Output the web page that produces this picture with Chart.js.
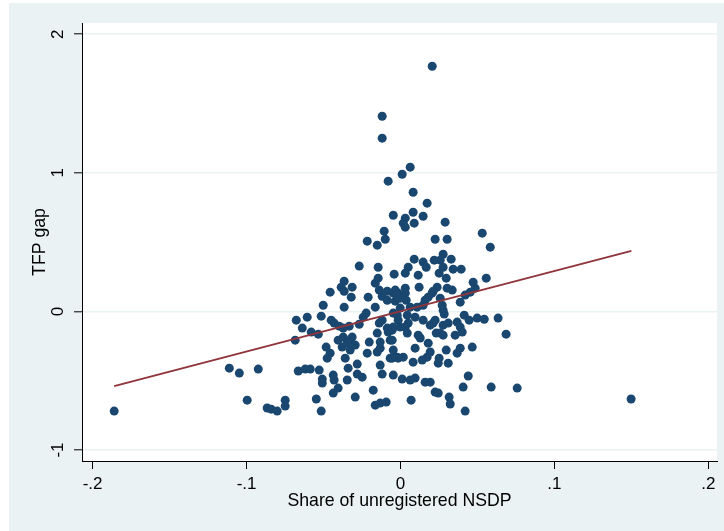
<!DOCTYPE html>
<html>
<head>
<meta charset="utf-8">
<script src="https://cdn.jsdelivr.net/npm/chart.js@4/dist/chart.umd.min.js"></script>
<style>
html,body{margin:0;padding:0;background:#fff;}
canvas{display:block;}
</style>
</head>
<body>
<canvas id="c" width="724" height="531"></canvas>
<script>
// Share of unregistered NSDP (x) and TFP gap (y)
const shareNSDP = [
-0.186,-0.0996,-0.0866,-0.0840,-0.0801,-0.0749,-0.0749,-0.1112,-0.1047,-0.0924,
-0.0080,-0.0047,-0.0106,-0.0099,-0.0216,-0.0151,-0.0268,-0.0145,-0.0041,-0.0145,
-0.0164,-0.0366,-0.0385,-0.0314,-0.0366,-0.0457,-0.0320,-0.0210,-0.0138,-0.0086,
-0.0047,-0.0015,-0.0119,-0.0086,-0.0034,-0.0502,-0.0366,-0.0164,-0.0047,-0.0677,
-0.0606,-0.0515,-0.0223,-0.0242,-0.0450,-0.0431,-0.0398,-0.0333,-0.0268,-0.0138,
-0.0119,-0.0638,-0.0580,-0.0534,-0.0372,-0.0086,-0.0080,-0.0151,-0.0372,-0.0314,
-0.0684,-0.0405,-0.0346,-0.0379,-0.0327,-0.0203,-0.0132,-0.0132,-0.0067,-0.0047,
-0.0067,-0.0021,-0.0483,-0.0457,-0.0476,-0.0359,-0.0216,-0.0151,-0.0340,-0.0281,
-0.0281,-0.0249,-0.0132,-0.0119,-0.0047,-0.0664,-0.0619,-0.0586,-0.0528,-0.0508,
-0.0508,-0.0437,-0.0431,-0.0437,-0.0405,-0.0346,-0.0294,-0.0177,-0.0547,-0.0515,
-0.0164,-0.0132,-0.0093,
0.0082,0.0173,0.0031,0.0082,0.0147,0.0018,0.0031,0.0089,0.0290,0.0531,
0.0583,0.0225,0.0303,0.0277,0.0089,0.0147,0.0167,0.0219,0.0258,0.0329,
0.0277,0.0251,0.0342,0.0394,0.0050,0.0031,0.0115,0.0297,0.0472,0.0557,
0.0238,0.0212,0.0121,0.0303,0.0336,0.0453,0.0485,0.0420,0.0388,0.0031,
0.0031,-0.0034,-0.0021,0.0037,0.0160,0.0180,0.0205,0.0258,0.0147,0.0108,
0.0063,-0.0002,0.0271,0.0277,0.0284,-0.0021,0.0044,0.0095,0.0147,0.0193,
0.0225,0.0277,0.0310,0.0368,0.0414,0.0446,0.0498,0.0544,0.0634,0.0686,
0.0388,0.0401,0.0355,0.0232,0.0258,0.0277,0.0115,0.0044,-0.0002,-0.0047,
0.0466,0.0388,0.0368,0.0297,0.0310,0.0251,0.0245,0.0180,0.0193,0.0173,
0.0141,0.0095,0.0082,0.0018,-0.0015,-0.0054,0.0128,0.0212,0.0031,-0.0054,
-0.0054,0.0440,0.0407,0.0589,0.0011,0.0063,0.0095,0.0160,0.0193,0.0225,
0.0245,0.0316,0.0323,0.0069,0.0420,0.0758,0.1498,
0.0206,-0.0119,-0.0119,0.0063,0.0011,
-0.0327,-0.0294,-0.0002,-0.0015,0.0050
];
const tfpGap = [
-0.719,-0.640,-0.697,-0.705,-0.719,-0.640,-0.683,-0.409,-0.445,-0.416,
0.940,0.694,0.579,0.521,0.507,0.478,0.327,0.319,0.269,0.240,
0.204,0.218,0.175,0.175,0.146,0.139,0.103,0.103,0.154,0.146,
0.132,0.132,0.110,0.081,0.074,0.045,0.031,0.031,-0.012,-0.063,
-0.041,-0.034,-0.012,-0.041,-0.063,-0.084,-0.106,-0.106,-0.092,-0.084,
-0.063,-0.120,-0.149,-0.164,-0.120,-0.120,-0.149,-0.156,-0.185,-0.185,
-0.207,-0.207,-0.229,-0.257,-0.279,-0.221,-0.221,-0.265,-0.207,-0.279,
-0.337,-0.330,-0.257,-0.301,-0.337,-0.337,-0.301,-0.293,-0.409,-0.380,
-0.452,-0.474,-0.387,-0.452,-0.459,-0.430,-0.416,-0.416,-0.423,-0.488,
-0.517,-0.459,-0.495,-0.589,-0.553,-0.495,-0.618,-0.568,-0.632,-0.719,
-0.676,-0.661,-0.654,
0.860,0.781,0.673,0.716,0.687,0.637,0.608,0.637,0.644,0.565,
0.464,0.521,0.521,0.413,0.377,0.356,0.319,0.370,0.370,0.377,
0.319,0.276,0.305,0.305,0.319,0.276,0.262,0.240,0.211,0.240,
0.175,0.146,0.175,0.168,0.154,0.139,0.168,0.118,0.067,0.168,
0.132,0.154,0.118,0.081,0.081,0.103,0.132,0.096,0.045,0.031,
0.031,0.024,0.045,0.009,-0.019,-0.027,-0.027,-0.041,-0.063,-0.099,
-0.063,-0.099,-0.084,-0.077,-0.027,-0.063,-0.048,-0.056,-0.048,-0.164,
-0.113,-0.149,-0.171,-0.156,-0.156,-0.171,-0.171,-0.156,-0.113,-0.113,
-0.257,-0.265,-0.301,-0.279,-0.373,-0.337,-0.373,-0.229,-0.293,-0.330,
-0.351,-0.265,-0.366,-0.330,-0.337,-0.337,-0.192,-0.084,-0.113,-0.207,
-0.135,-0.466,-0.546,-0.546,-0.488,-0.495,-0.481,-0.510,-0.510,-0.582,
-0.589,-0.618,-0.668,-0.640,-0.719,-0.553,-0.632,
1.769,1.408,1.250,1.041,0.990,
-0.207,-0.243,0.096,-0.063,-0.084
];
// Fitted line end points
const fitX = [-0.186, 0.150];
const fitY = [-0.539, 0.437];
// Axis ticks
const xTickValues = [-0.2, -0.1, 0, 0.1, 0.2];
const xTickLabels = ['-.2', '-.1', '0', '.1', '.2'];
const yTickValues = [-1, 0, 1, 2];
const yTickLabels = ['-1', '0', '1', '2'];

const scatterPts = shareNSDP.map((v, i) => ({x: v, y: tfpGap[i]}));
const fitPts = fitX.map((v, i) => ({x: v, y: fitY[i]}));

const FONT = "'Liberation Sans', Arial, Helvetica, sans-serif";
const BG = '#EAF2F3';

const bgPlugin = {
  id: 'bg',
  beforeDraw(chart) {
    const ctx = chart.ctx, a = chart.chartArea;
    ctx.save();
    ctx.fillStyle = '#ffffff';
    ctx.fillRect(0, 0, chart.width, chart.height);
    ctx.fillStyle = BG;
    ctx.fillRect(9, 3, chart.width - 9, chart.height - 3);
    ctx.fillStyle = '#ffffff';
    ctx.fillRect(a.left, a.top, a.right - a.left, a.bottom - a.top);
    ctx.restore();
  }
};

new Chart(document.getElementById('c'), {
  type: 'scatter',
  data: {
    datasets: [
      {
        type: 'line',
        label: 'Fitted values',
        data: fitPts,
        borderColor: '#90353B',
        borderWidth: 2,
        pointRadius: 0,
        fill: false,
        tension: 0,
        order: 0
      },
      {
        label: 'TFP gap',
        data: scatterPts,
        backgroundColor: '#1A476F',
        borderColor: '#1A476F',
        borderWidth: 0,
        pointRadius: 4.5,
        order: 1
      }
    ]
  },
  options: {
    responsive: false,
    animation: false,
    devicePixelRatio: 1,
    layout: {padding: {left: 9, top: 23, right: 7, bottom: 0}},
    plugins: {legend: {display: false}, tooltip: {enabled: false}},
    scales: {
      x: {
        type: 'linear',
        min: -0.2069,
        max: 0.2056,
        afterBuildTicks: s => { s.ticks = xTickValues.map(v => ({value: v})); },
        afterFit: s => { s.height = 70; },
        grid: {drawOnChartArea: false, tickColor: '#000', tickLength: 8, tickWidth: 1},
        border: {display: true, color: '#000', width: 1},
        ticks: {
          color: '#000',
          font: {family: FONT, size: 17},
          padding: 5,
          maxRotation: 0,
          minRotation: 0,
          callback: (v) => { const i = xTickValues.findIndex(t => Math.abs(t - v) < 1e-9); return i >= 0 ? xTickLabels[i] : ''; }
        },
        title: {
          display: true,
          text: 'Share of unregistered NSDP',
          color: '#000',
          font: {family: FONT, size: 17.7},
          padding: {top: 0, bottom: 19}
        }
      },
      y: {
        type: 'linear',
        min: -1.079,
        max: 2.081,
        afterBuildTicks: s => { s.ticks = yTickValues.map(v => ({value: v})); },
        afterFit: s => { s.width = 73; },
        grid: {drawOnChartArea: true, color: BG, lineWidth: 1.6, tickColor: '#000', tickLength: 8, tickWidth: 1},
        border: {display: true, color: '#000', width: 1},
        ticks: {
          color: '#000',
          font: {family: FONT, size: 17},
          padding: 8,
          minRotation: 90,
          maxRotation: 90,
          crossAlign: 'center',
          callback: (v) => { const i = yTickValues.findIndex(t => Math.abs(t - v) < 1e-9); return i >= 0 ? yTickLabels[i] : ''; }
        },
        title: {
          display: true,
          text: 'TFP gap',
          color: '#000',
          font: {family: FONT, size: 17.7},
          padding: {top: 20, bottom: 0}
        }
      }
    }
  },
  plugins: [bgPlugin]
});
</script>
</body>
</html>
